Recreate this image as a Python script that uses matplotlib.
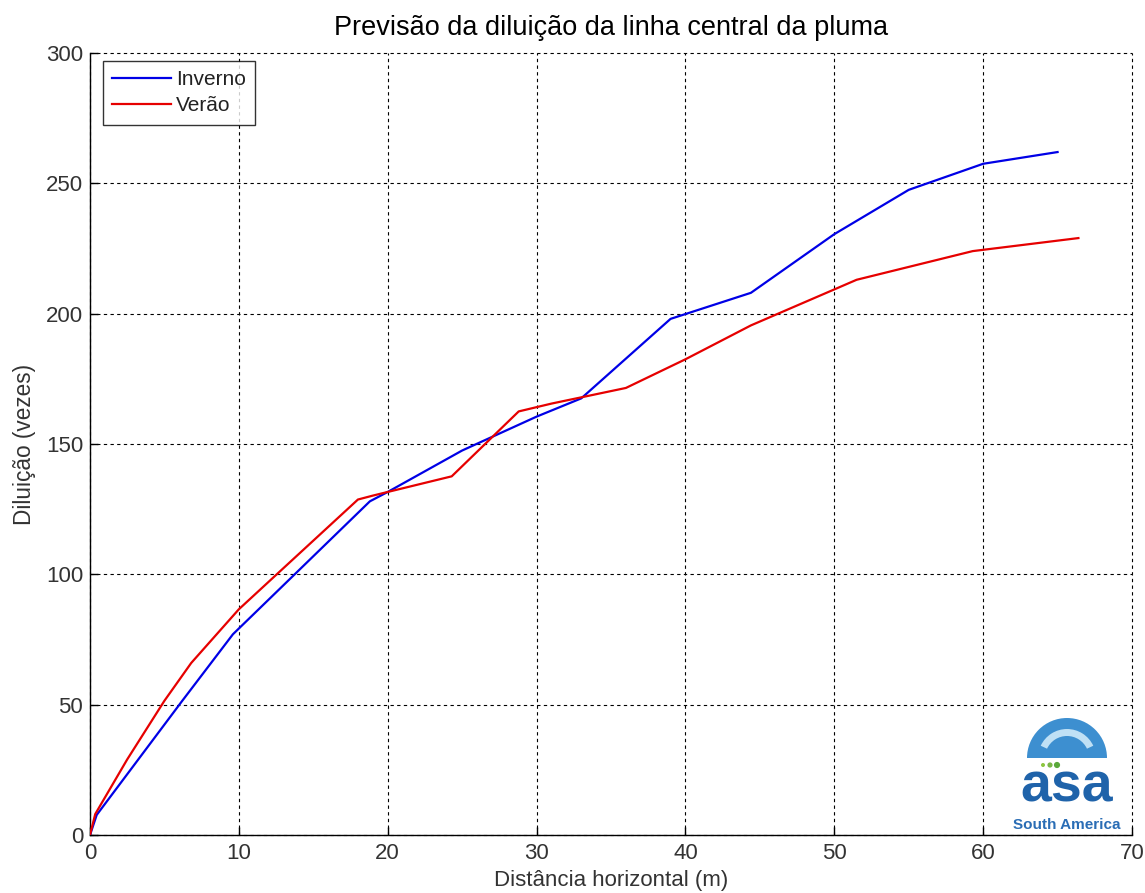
import matplotlib
matplotlib.use("Agg")
import matplotlib.pyplot as plt
from matplotlib.patches import Wedge, Circle

plt.rcParams['font.family'] = ['Liberation Sans', 'DejaVu Sans']

# Data
inverno_x = [0, 0.45, 6.2, 9.6, 12, 18.8, 20, 25, 30, 33, 39, 44.4, 50, 55, 60, 65]
inverno_y = [0, 7.7, 51.5, 77, 90.3, 128, 131.6, 147.5, 160.5, 167.5, 198, 208, 230.5, 247.5, 257.5, 262]
verao_x = [0, 0.35, 2.5, 5.0, 6.8, 10, 13, 18, 19, 20, 24.3, 28.8, 31, 36, 40, 44.4, 50, 51.5, 59.3, 66.4]
verao_y = [0, 8, 29, 51.5, 66, 86.6, 102.4, 128.7, 130.2, 131.6, 137.6, 162.5, 165.5, 171.5, 182.5, 195.5, 209.3, 213, 224, 229]
xticks = [0, 10, 20, 30, 40, 50, 60, 70]
yticks = [0, 50, 100, 150, 200, 250, 300]

fig = plt.figure(figsize=(11.45, 8.93), dpi=100)
ax = fig.add_axes([90/1145, 58/893, 1042/1145, 782/893])

ax.plot(inverno_x, inverno_y, color='#0000e6', lw=1.6, label='Inverno', zorder=3)
ax.plot(verao_x, verao_y, color='#e60000', lw=1.6, label='Verão', zorder=3)

ax.set_xlim(0, 70)
ax.set_ylim(0, 300)
ax.set_xticks(xticks)
ax.set_yticks(yticks)
ax.grid(True, color='black', linestyle=(0, (3, 3)), linewidth=0.8)
for s in ['top', 'right']:
    ax.spines[s].set_visible(False)
for s in ['left', 'bottom']:
    ax.spines[s].set_linewidth(1.0)
ax.tick_params(direction='in', length=6, width=1.0, labelsize=16, colors='black',
               labelcolor='#333333')
ax.tick_params(axis='x', pad=6)
ax.tick_params(axis='y', pad=5)
for gl in ax.get_xgridlines() + ax.get_ygridlines():
    gl.set_clip_on(False)

ax.set_title('Previsão da diluição da linha central da pluma', fontsize=19.5, pad=13)
ax.set_xlabel('Distância horizontal (m)', fontsize=16, color='#333333', labelpad=4)
ax.set_ylabel('Diluição (vezes)', fontsize=16.3, color='#333333', labelpad=7)

leg = ax.legend(loc='upper left', bbox_to_anchor=(0.0125, 0.99), borderaxespad=0,
                fontsize=15, frameon=True, fancybox=False, edgecolor='black',
                handlelength=2.8, handletextpad=0.25, borderpad=0.45, labelspacing=0.35)
leg.get_frame().set_linewidth(1.0)
for t in leg.get_texts():
    t.set_color('#222222')

# Logo (decorative)
lax = fig.add_axes([1010/1145, (893-830)/893, 115/1145, 118/893])
lax.set_xlim(0, 115)
lax.set_ylim(0, 118)
lax.axis('off')
lax.add_patch(Wedge((57, 72), 40, 0, 180, facecolor='#3d8fd0', edgecolor='none'))
lax.add_patch(Wedge((57, 72), 29, 25, 155, width=7, facecolor='#bfe0f5', edgecolor='none'))
for cx, r, c in [(33, 2.0, '#8cc63f'), (40, 2.6, '#7ab648'), (47, 3.1, '#5aa83a')]:
    lax.add_patch(Circle((cx, 65), r, facecolor=c, edgecolor='none'))
lax.text(57, 28, 'asa', fontsize=40, fontweight='bold', color='#1f63aa', ha='center',
         va='baseline')
lax.text(57, 1, 'South America', fontsize=11, fontweight='bold', color='#2a6db5',
         ha='center', va='baseline')

fig.savefig('out.png', dpi=100)
